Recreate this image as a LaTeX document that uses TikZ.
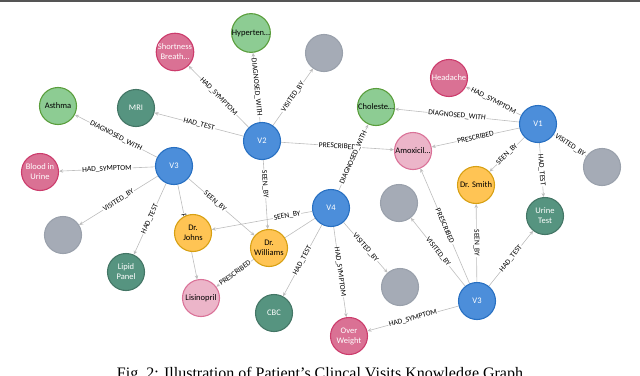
\documentclass[tikz,border=0pt]{standalone}
\usepackage{fontspec}
\setmainfont{Liberation Serif}
\setsansfont{Carlito}
\usepackage{xcolor}
\usetikzlibrary{arrows.meta,backgrounds}

\definecolor{visitfill}{HTML}{4C8EDA}
\definecolor{visitline}{HTML}{2870C2}
\definecolor{diagfill}{HTML}{8DCC93}
\definecolor{diagline}{HTML}{5A9E3C}
\definecolor{sympfill}{HTML}{DA7194}
\definecolor{sympline}{HTML}{CC3C6C}
\definecolor{testfill}{HTML}{569480}
\definecolor{testline}{HTML}{447666}
\definecolor{medfill}{HTML}{ECB5C9}
\definecolor{medline}{HTML}{DA7298}
\definecolor{docfill}{HTML}{FFC454}
\definecolor{docline}{HTML}{D7A013}
\definecolor{otherfill}{HTML}{A5ABB6}
\definecolor{otherline}{HTML}{9AA1AC}
\definecolor{relgray}{HTML}{BDBDBD}
\definecolor{topline}{HTML}{555555}

\begin{document}
\begin{tikzpicture}[x=1pt, y=-1pt,
    ent/.style={circle, draw, line width=1.1pt, minimum size=37pt, inner sep=0pt,
                align=center, font=\sffamily\fontsize{8.5}{10}\selectfont},
    visit/.style={ent, fill=visitfill, draw=visitline, text=white},
    diag/.style={ent, fill=diagfill, draw=diagline},
    symp/.style={ent, fill=sympfill, draw=sympline, text=white},
    test/.style={ent, fill=testfill, draw=testline, text=white},
    med/.style={ent, fill=medfill, draw=medline},
    doc/.style={ent, fill=docfill, draw=docline},
    other/.style={ent, fill=otherfill, draw=otherline},
    rel/.style={draw=relgray, line width=0.6pt, -{Stealth[length=4pt, width=3.5pt]}},
    lbl/.style={sloped, fill=white, inner sep=0.8pt, font=\sffamily\fontsize{7.5}{8}\selectfont}]
  \useasboundingbox (0,0) rectangle (640,375);
  \fill[topline] (0,0) rectangle (640,1.5);

  \node[symp] (sob) at (175,52) {Shortness\\Breath…};
  \node[diag] (hyp) at (251,33) {Hyperten…};
  \node[other] (g1) at (324,53) {};
  \node[diag] (asth) at (58,106) {Asthma};
  \node[test] (mri) at (136,108) {MRI};
  \node[diag] (chol) at (376,107) {Choleste…};
  \node[symp] (head) at (449,78) {Headache};
  \node[visit] (v1) at (538,124) {V1};
  \node[visit] (v2) at (262,141) {V2};
  \node[med] (amox) at (413,151) {Amoxicil…};
  \node[visit] (v3a) at (174,166) {V3};
  \node[symp] (blood) at (40,172) {Blood in\\Urine};
  \node[other] (g2) at (602,167) {};
  \node[doc] (smith) at (476,185) {Dr. Smith};
  \node[other] (g3) at (399,203) {};
  \node[visit] (v4) at (331,208) {V4};
  \node[test] (urine) at (545,216) {Urine\\Test};
  \node[other] (g4) at (63,235) {};
  \node[doc] (johns) at (193,233) {Dr.\\Johns};
  \node[doc] (will) at (269,248) {Dr.\\Williams};
  \node[test] (lipid) at (126,272) {Lipid\\Panel};
  \node[other] (g5) at (400,287) {};
  \node[med] (lisin) at (201,298) {Lisinopril};
  \node[visit] (v3b) at (477,301) {V3};
  \node[test] (cbc) at (274,313) {CBC};
  \node[symp] (over) at (349,336) {Over\\Weight};

  \node[font=\rmfamily\fontsize{16}{18}\selectfont, anchor=base] (cap) at (320,378)
    {Fig.~2: Illustration of Patient’s Clincal Visits Knowledge Graph};

  \begin{pgfonlayer}{background}
    \draw[rel] (v2) -- node[lbl] {HAD\_SYMPTOM} (sob);
    \draw[rel] (v2) -- node[lbl] {HAD\_TEST} (mri);
    \draw[rel] (v2) -- node[lbl] {DIAGNOSED\_WITH} (hyp);
    \draw[rel] (v2) -- node[lbl] {VISITED\_BY} (g1);
    \draw[rel] (v2) -- node[lbl] {PRESCRIBED} (amox);
    \draw[rel] (v2) -- node[lbl, pos=0.35] {SEEN\_BY} (will);

    \draw[rel] (v3a) -- node[lbl] {DIAGNOSED\_WITH} (asth);
    \draw[rel] (v3a) -- node[lbl] {HAD\_SYMPTOM} (blood);
    \draw[rel] (v3a) -- node[lbl] {VISITED\_BY} (g4);
    \draw[rel] (v3a) -- node[lbl] {HAD\_TEST} (lipid);
    \draw[rel] (v3a) -- node[lbl] {PRESCRIBED} (lisin);
    \draw[rel] (v3a) -- node[lbl, pos=0.4] {SEEN\_BY} (will);

    \draw[rel] (v4) -- node[lbl] {DIAGNOSED\_WITH} (chol);
    \draw[rel] (v4) -- node[lbl, pos=0.25] {SEEN\_BY} (johns);
    \draw[rel] (v4) -- node[lbl] {HAD\_TEST} (cbc);
    \draw[rel] (v4) -- node[lbl] {HAD\_SYMPTOM} (over);
    \draw[rel] (v4) -- node[lbl] {VISITED\_BY} (g5);
    \draw[draw=relgray, line width=0.6pt] (will) -- (v4);
    \draw[rel] (will) -- node[lbl] {PRESCRIBED} (lisin);

    \draw[rel] (v1) -- node[lbl] {HAD\_SYMPTOM} (head);
    \draw[rel] (v1) -- node[lbl] {DIAGNOSED\_WITH} (chol);
    \draw[rel] (v1) -- node[lbl] {PRESCRIBED} (amox);
    \draw[rel] (v1) -- node[lbl] {SEEN\_BY} (smith);
    \draw[rel] (v1) -- node[lbl] {HAD\_TEST} (urine);
    \draw[rel] (v1) -- node[lbl] {VISITED\_BY} (g2);

    \draw[rel] (v3b) -- node[lbl] {HAD\_SYMPTOM} (over);
    \draw[rel] (v3b) -- node[lbl] {VISITED\_BY} (g3);
    \draw[rel] (v3b) -- node[lbl] {PRESCRIBED} (amox);
    \draw[rel] (v3b) -- node[lbl] {SEEN\_BY} (smith);
    \draw[rel] (v3b) -- node[lbl] {HAD\_TEST} (urine);
  \end{pgfonlayer}
\end{tikzpicture}
\end{document}
